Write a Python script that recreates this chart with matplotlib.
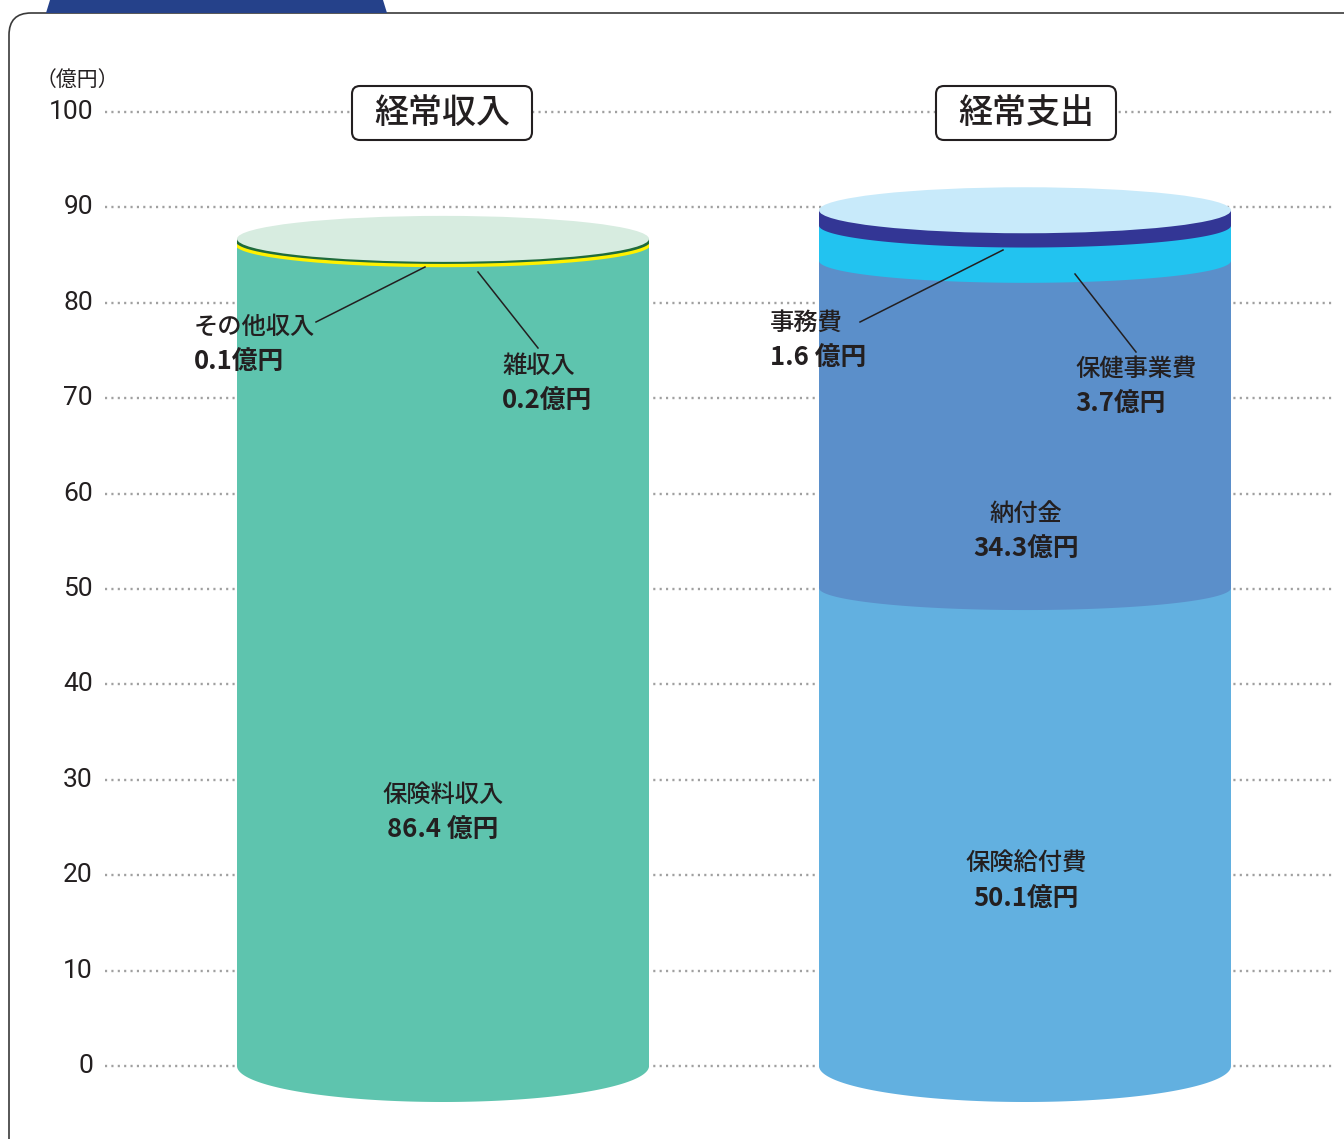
import numpy as np
import matplotlib
matplotlib.use("Agg")
import matplotlib.pyplot as plt
from matplotlib.patches import Polygon, Ellipse, FancyBboxPatch, Rectangle

plt.rcParams['font.family'] = ['Noto Sans CJK JP', 'DejaVu Sans']

# ---- data ----
titles = ["経常収入", "経常支出"]
income_labels = ["保険料収入", "雑収入", "その他収入"]
income_values = [86.4, 0.2, 0.1]
income_colors = ["#5ec4ae", "#fff100", "#1f6b3b"]
income_cap = "#d7ece0"

expense_labels = ["保険給付費", "納付金", "保健事業費", "事務費"]
expense_values = [50.1, 34.3, 3.7, 1.6]
expense_colors = ["#62b0e0", "#5b8fca", "#22c3f0", "#333695"]
expense_cap = "#c8eafa"

yticks = [0, 10, 20, 30, 40, 50, 60, 70, 80, 90, 100]
unit_label = "（億円）"

W, H = 1344, 1139
fig = plt.figure(figsize=(W / 100, H / 100), dpi=100)

# background / decoration axes in pixel coordinates
bg = fig.add_axes([0, 0, 1, 1])
bg.set_xlim(0, W)
bg.set_ylim(H, 0)
bg.axis("off")
bg.set_zorder(0)

frame = FancyBboxPatch((9, 13), 1360, 1160, boxstyle="round,pad=0,rounding_size=22",
                       fc="white", ec="#3a3a3a", lw=1.2, zorder=1)
bg.add_patch(frame)
bg.add_patch(Polygon([(50, 0), (383, 0), (387, 13), (46, 13)], closed=True,
                     fc="#25418a", ec="none", zorder=2))

# main axes in value coordinates
px_per_unit = (1066 - 112) / 100.0
ymin = -(H - 1066) / px_per_unit
ymax = 1066 / px_per_unit
ax = fig.add_axes([0, 0, 1, 1])
ax.set_xlim(0, W)
ax.set_ylim(ymin, ymax)
ax.axis("off")
ax.patch.set_alpha(0)
ax.set_zorder(1)

# gridlines and tick labels
for t in yticks:
    ax.plot([105, 1332], [t, t], color="#a0a0a0", lw=1.7, ls=(0, (0.9, 1.8)),
            zorder=1, dash_capstyle="butt")
    ax.text(93, t, str(t), ha="right", va="center", fontsize=19,
            family=["Roboto", "DejaVu Sans"], color="#231f20", zorder=5)
ax.text(36, 103.4, unit_label, ha="left", va="center", fontsize=15, color="#231f20")

bottom_h = 36 / px_per_unit
mid_h = 22 / px_per_unit
cap_h = 23 / px_per_unit


def cylinder(cx, half_w, values, colors, cap_color):
    base = 0.0
    theta = np.linspace(np.pi, 2 * np.pi, 200)
    clip = Rectangle((cx - half_w, ymin), 2 * half_w, ymax - ymin,
                     transform=ax.transData)
    n = len(values)
    for i, (v, c) in enumerate(zip(values, colors)):
        hh = bottom_h if i == 0 else mid_h
        top = base + v
        xs = cx + half_w * np.cos(theta)
        ys = base + hh * np.sin(theta)
        pts = list(zip(xs, ys)) + [(cx + half_w, top), (cx - half_w, top)]
        z = 2 + i * 0.01
        ax.add_patch(Polygon(pts, closed=True, fc=c, ec="none", zorder=z))
        if i > 0 and v < 1:
            # thin layer: keep it visible with a stroke along its lower rim
            lw = 5.0 if i < n - 1 else 3.0
            ln, = ax.plot(xs, ys, color=c, lw=lw, solid_capstyle="butt", zorder=z)
            ln.set_clip_path(clip)
        base = top
    ax.add_patch(Ellipse((cx, base), 2 * half_w, 2 * cap_h, fc=cap_color, ec="none",
                         zorder=3))
    return base


cylinder(443, 206, income_values, income_colors, income_cap)
cylinder(1025, 206, expense_values, expense_colors, expense_cap)

# title boxes (pixel geometry, drawn above gridlines)
for cx, title in zip([442, 1026], titles):
    box = FancyBboxPatch((cx - 90, 86), 180, 54, boxstyle="round,pad=0,rounding_size=8",
                         fc="white", ec="#231f20", lw=1.5, zorder=4,
                         transform=bg.transData)
    ax.add_patch(box)
    ax.text(cx, (1066 - 113) / px_per_unit, title, ha="center", va="center",
            fontsize=24.5, fontweight="medium", color="#231f20", zorder=6)

txt = dict(color="#231f20", zorder=6)
lab_fs = 17.5
num_fs = 18.5


def label(x, y_name_px, name, value, ha="left", gap=""):
    y1 = (1066 - y_name_px) / px_per_unit
    y2 = (1066 - y_name_px - 34) / px_per_unit
    ax.text(x, y1, name, ha=ha, va="center", fontsize=lab_fs, fontweight="medium", **txt)
    ax.text(x, y2, f"{value}{gap}億円", ha=ha, va="center", fontsize=num_fs,
            fontweight="bold", **txt)


def leader(x0, y0px, x1, y1px):
    ax.plot([x0, x1], [(1066 - y0px) / px_per_unit, (1066 - y1px) / px_per_unit],
            color="#231f20", lw=1.1, zorder=6)


# income labels
label(443, 795, income_labels[0], income_values[0], ha="center", gap=" ")
label(502, 366, income_labels[1], income_values[1])
label(194, 327, income_labels[2], income_values[2])
leader(316, 322, 425, 267)
leader(478, 272, 538, 348)

# expense labels
label(1026, 864, expense_labels[0], expense_values[0], ha="center")
label(1026, 514, expense_labels[1], expense_values[1], ha="center")
label(1075, 369, expense_labels[2], expense_values[2])
label(770, 323, expense_labels[3], expense_values[3], gap=" ")
leader(860, 322, 1003, 250)
leader(1075, 274, 1136, 352)

fig.savefig("out.png", dpi=100)
